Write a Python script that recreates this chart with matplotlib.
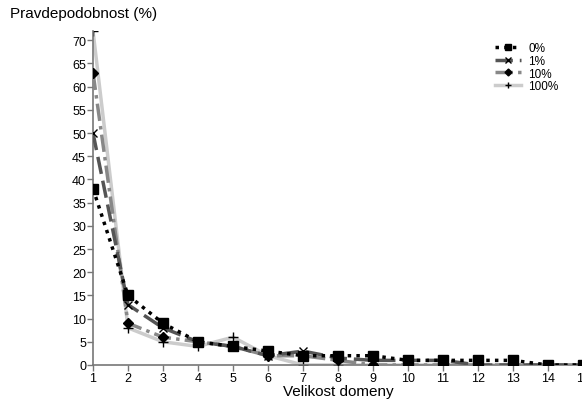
import matplotlib
matplotlib.use("Agg")
import matplotlib.pyplot as plt

plt.rcParams['font.family'] = ['Liberation Sans', 'DejaVu Sans']

# data
velikost = list(range(1, 16))
p0 = [38, 15, 9, 5, 4, 3, 2, 2, 2, 1, 1, 1, 1, 0, 0]
p1 = [50, 13, 8, 5, 4, 2, 3, 1.5, 1, 1, 1, 0, 0, 0, 0]
p10 = [63, 9, 6, 5, 4, 2, 2, 1, 0, 0, 0, 0, 0, 0, 0]
p100 = [72, 8, 5, 4, 6, 2, 0, 0, 0, 0, 0, 0, 0, 0, 0]
labels = ['0%', '1%', '10%', '100%']

fig = plt.figure(figsize=(5.82, 4.02), dpi=100)
ax = fig.add_axes([93/582, 1-366/402, 490/582, (366-32)/402])

ax.plot(velikost, p100, color='#cccccc', lw=2.5, ls='-', marker='+', ms=7, mec='black', mew=1, label=labels[3], zorder=2)
ax.plot(velikost, p10, color='#888888', lw=2.5, ls=(0, (5, 1.5, 1, 1.5)), marker='D', ms=5, mfc='black', mec='black', label=labels[2], zorder=3)
ax.plot(velikost, p1, color='#555555', lw=2.5, ls=(0, (5, 2)), marker='x', ms=6, mec='black', mew=1, label=labels[1], zorder=4)
ax.plot(velikost, p0, color='black', lw=2.5, ls=(0, (1, 1.5)), marker='s', ms=7, mfc='black', mec='black', label=labels[0], zorder=5)

ax.set_xlim(1, 15)
ax.set_ylim(0, 72)
ax.set_xticks(velikost)
ax.set_yticks(range(0, 71, 5))
for s in ['top', 'right']:
    ax.spines[s].set_visible(False)
for s in ['left', 'bottom']:
    ax.spines[s].set_color('#777777')
    ax.spines[s].set_linewidth(1.2)
ax.tick_params(length=4, width=1, color='#777777', labelsize=9, pad=1)

ax.set_xlabel('Velikost domeny', fontsize=11, labelpad=0)
fig.text(10/582, 1-14/402, 'Pravdepodobnost (%)', fontsize=11, va='center', ha='left')

h, l = ax.get_legend_handles_labels()
ax.legend(h[::-1], l[::-1], loc='upper right', bbox_to_anchor=(0.96, 0.98), frameon=False,
          fontsize=8.5, handlelength=2.2, labelspacing=0.05, handletextpad=0.6, borderaxespad=0,
          markerscale=0.7)

fig.savefig('out.png', dpi=100)
